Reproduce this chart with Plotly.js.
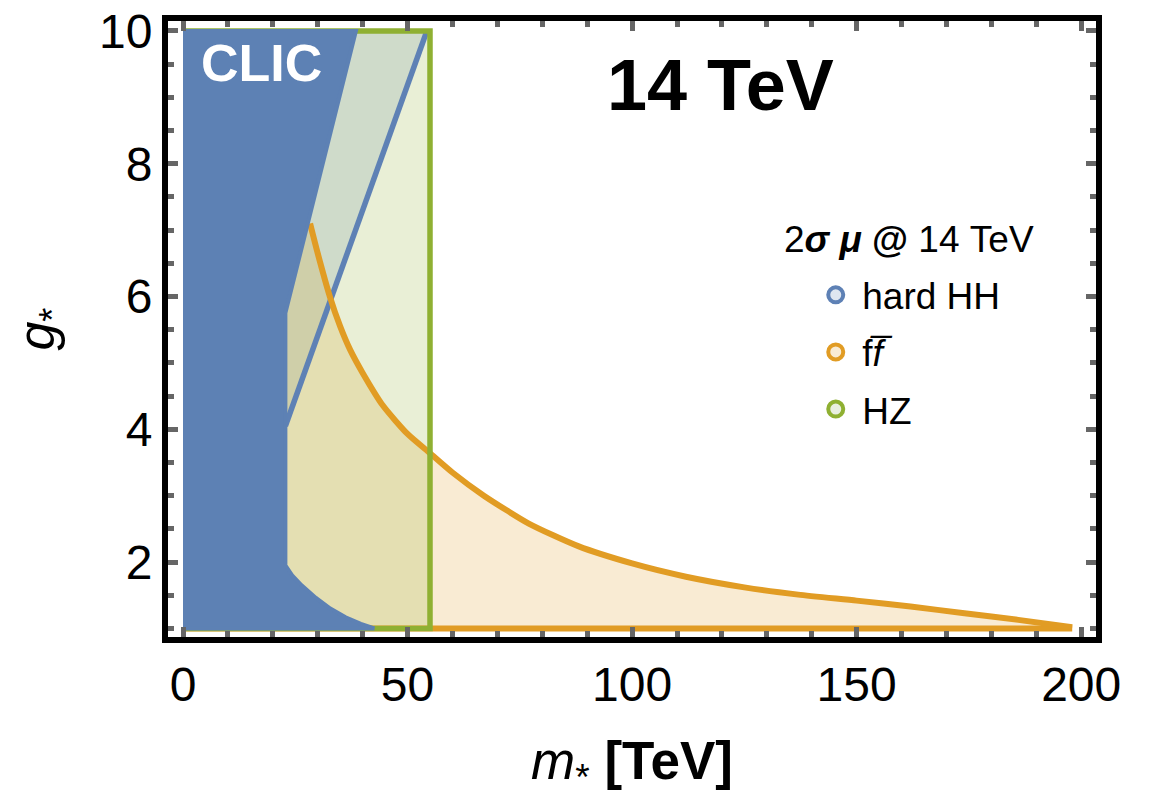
<!DOCTYPE html>
<html>
<head>
<meta charset="utf-8">
<script src="https://cdn.plot.ly/plotly-3.0.1.min.js"></script>
<style>html,body{margin:0;padding:0;background:#fff;}#chart{width:1149px;height:798px;}</style>
</head>
<body>
<div id="chart"></div>
<script>
// ---- data ----
// CLIC excluded region (boundary, m* [TeV], g*)
const clicX = [0, 42.6, 39.6, 36.2, 32.8, 29.6, 26.4, 24.3, 22.8, 22.8, 38.5, 0];
const clicY = [1, 1, 1.07, 1.17, 1.30, 1.46, 1.65, 1.80, 1.95, 5.75, 10, 10];
// hard HH boundary line
const hhX = [22.8, 54.3];
const hhY = [4.05, 10];
// f fbar boundary curve
const ffX = [28.3, 30, 32.7, 35, 37.2, 40, 44.6, 50, 55, 60, 67, 77, 88, 100, 112, 125, 137, 150, 162, 174, 186, 198];
const ffY = [7.1, 6.65, 6.0, 5.55, 5.2, 4.85, 4.35, 3.93, 3.64, 3.35, 3.0, 2.58, 2.24, 1.98, 1.78, 1.62, 1.51, 1.42, 1.33, 1.23, 1.13, 1.02];
// HZ box
const hzX = [0, 55, 55, 0];
const hzY = [10, 10, 1, 1];
// plot limits of the region plot
const mMin = 0, gMin = 1, gMax = 10;
// axis ticks
const xTicks = [0, 50, 100, 150, 200];
const yTicks = [2, 4, 6, 8, 10];
const legendNames = ['hard HH', 'f<i>f\u0305</i>', 'HZ'];
const legendTitle = '2<b><i>σ μ</i> @</b> 14 TeV';

// ---- styles ----
const BLUE = '#5e81b5', ORANGE = '#e19c24', GREEN = '#8fb032';
const FONT = 'Liberation Sans, Arial, Helvetica, sans-serif';

const last = ffX.length - 1;
const traces = [
  // fills
  {x: hhX.concat([mMin, mMin]), y: hhY.concat([gMax, hhY[0]]), fill: 'toself', mode: 'lines',
   fillcolor: 'rgba(94,129,181,0.2)', line: {width: 0}, showlegend: false, hoverinfo: 'skip'},
  {x: ffX.concat([ffX[last], mMin, mMin]), y: ffY.concat([gMin, gMin, ffY[0]]), fill: 'toself', mode: 'lines',
   fillcolor: 'rgba(225,156,36,0.2)', line: {width: 0}, showlegend: false, hoverinfo: 'skip'},
  {x: hzX, y: hzY, fill: 'toself', mode: 'lines',
   fillcolor: 'rgba(143,176,50,0.2)', line: {width: 0}, showlegend: false, hoverinfo: 'skip'},
  // boundary lines
  {x: hhX, y: hhY, mode: 'lines', line: {color: BLUE, width: 5.5}, showlegend: false, hoverinfo: 'skip'},
  {x: [ffX[last], mMin], y: [gMin, gMin], mode: 'lines',
   line: {color: ORANGE, width: 6}, showlegend: false, hoverinfo: 'skip'},
  {x: ffX, y: ffY, mode: 'lines',
   line: {color: ORANGE, width: 6, shape: 'spline', smoothing: 0.6}, showlegend: false, hoverinfo: 'skip'},
  {x: hzX, y: hzY, mode: 'lines', line: {color: GREEN, width: 5.5}, showlegend: false, hoverinfo: 'skip'},
  // CLIC
  {x: clicX, y: clicY, fill: 'toself', mode: 'lines', fillcolor: '#5d81b4',
   line: {color: '#5d81b4', width: 4}, showlegend: false, hoverinfo: 'skip'},
  // legend entries
  {x: [null], y: [null], mode: 'markers', name: legendNames[0], legendgroup: 'a',
   marker: {symbol: 'circle', size: 15, color: '#dfe6f0', line: {color: BLUE, width: 4}}},
  {x: [null], y: [null], mode: 'markers', name: legendNames[1], legendgroup: 'b',
   marker: {symbol: 'circle', size: 15, color: '#f9ebd3', line: {color: ORANGE, width: 4}}},
  {x: [null], y: [null], mode: 'markers', name: legendNames[2], legendgroup: 'c',
   marker: {symbol: 'circle', size: 15, color: '#e9efe0', line: {color: GREEN, width: 4}}}
];

const tickStyle = {ticks: 'inside', ticklen: 10, tickwidth: 5, tickcolor: '#666'};
const layout = {
  width: 1149, height: 798,
  margin: {l: 168, r: 53, t: 21, b: 161},
  paper_bgcolor: '#fff', plot_bgcolor: '#fff',
  font: {family: FONT, color: '#000'},
  showlegend: true,
  xaxis: Object.assign({
    range: [-3.34, 203.3], tickvals: xTicks, ticktext: xTicks.map(String),
    showline: true, linecolor: '#000', linewidth: 6, mirror: 'allticks',
    showgrid: false, zeroline: false,
    minor: {dtick: 10, tick0: 0, ticks: 'inside', ticklen: 6, tickwidth: 5, tickcolor: '#666', showgrid: false},
    tickfont: {size: 48, family: FONT, color: '#000'},
    title: {text: '<i>m</i><sub>*</sub> <b>[TeV]</b>', font: {size: 53, family: FONT, color: '#000'}, standoff: 42}
  }, tickStyle),
  yaxis: Object.assign({
    range: [0.872, 10.15], tickvals: yTicks, ticktext: yTicks.map(String),
    showline: true, linecolor: '#000', linewidth: 6, mirror: 'allticks',
    showgrid: false, zeroline: false,
    minor: {dtick: 0.5, tick0: 0, ticks: 'inside', ticklen: 6, tickwidth: 5, tickcolor: '#666', showgrid: false},
    tickfont: {size: 48, family: FONT, color: '#000'},
    title: {text: '<i>g</i><sub>*</sub>', font: {size: 52, family: FONT, color: '#000'}, standoff: 30}
  }, tickStyle),
  legend: {
    x: 0.691, y: 0.605, xanchor: 'left', yanchor: 'top',
    bgcolor: 'rgba(0,0,0,0)', borderwidth: 0,
    font: {size: 37, family: FONT, color: '#000'},
    traceorder: 'grouped', tracegroupgap: 6, itemsizing: 'trace', itemwidth: 43
  },
  annotations: [
    {text: '<b>14 TeV</b>', xref: 'paper', yref: 'paper', x: 0.595, y: 0.896,
     xanchor: 'center', yanchor: 'middle', showarrow: false,
     font: {size: 72, family: FONT, color: '#000'}},
    {text: '<b>CLIC</b>', xref: 'paper', yref: 'paper', x: 0.101, y: 0.932,
     xanchor: 'center', yanchor: 'middle', showarrow: false,
     font: {size: 52, family: FONT, color: '#fff'}},
    {text: legendTitle, xref: 'paper', yref: 'paper', x: 0.6616, y: 0.6445,
     xanchor: 'left', yanchor: 'middle', showarrow: false,
     font: {size: 37, family: FONT, color: '#000'}}
  ]
};

Plotly.newPlot('chart', traces, layout, {displayModeBar: false, staticPlot: true});
</script>
</body>
</html>
